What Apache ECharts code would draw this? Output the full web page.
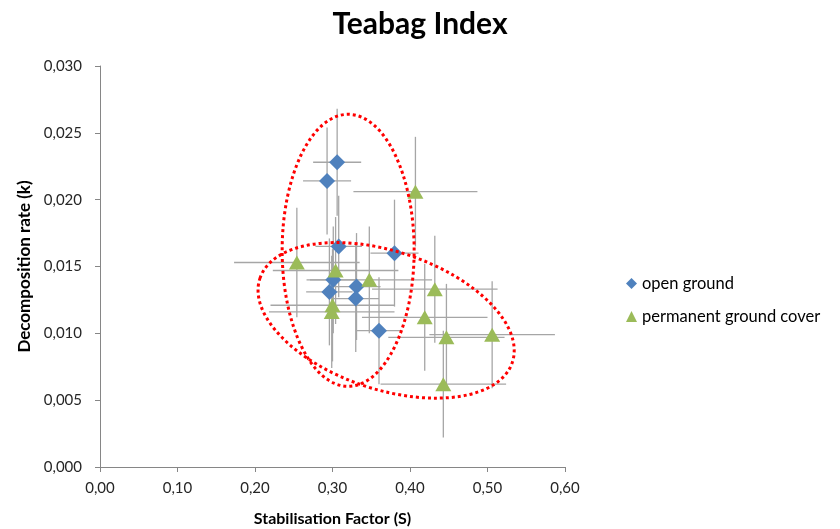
<!DOCTYPE html>
<html>
<head>
<meta charset="utf-8">
<script src="https://cdn.jsdelivr.net/npm/echarts@6/dist/echarts.min.js"></script>
<style>html,body{margin:0;padding:0;background:#fff;}#c{width:840px;height:529px;}</style>
</head>
<body>
<div id="c"></div>
<script>
// ---- data ----
const seriesNames = ['open ground', 'permanent ground cover'];
const openX    = [0.306, 0.293, 0.308, 0.380, 0.301, 0.296, 0.331, 0.330, 0.360];
const openY    = [0.0228, 0.0214, 0.0165, 0.0160, 0.0140, 0.0131, 0.0135, 0.0126, 0.0102];
const openXErr = [0.031, 0.031, 0.030, 0.031, 0.030, 0.030, 0.031, 0.030, 0.030];
const openYErr = [0.0040, 0.0040, 0.0038, 0.0040, 0.0040, 0.0040, 0.0040, 0.0040, 0.0040];
const permX    = [0.407, 0.254, 0.304, 0.3475, 0.432, 0.300, 0.299, 0.419, 0.447, 0.506, 0.443];
const permY    = [0.0206, 0.0153, 0.0147, 0.0140, 0.0133, 0.0121, 0.0116, 0.0112, 0.0097, 0.0099, 0.0062];
const permXErr = [0.080, 0.081, 0.081, 0.081, 0.081, 0.080, 0.081, 0.081, 0.075, 0.081, 0.081];
const permYErr = [0.0041, 0.0041, 0.0040, 0.0040, 0.0040, 0.0042, 0.0042, 0.0040, 0.0040, 0.0040, 0.0040];
const xTicks = [0, 0.1, 0.2, 0.3, 0.4, 0.5, 0.6];
const yTicks = [0, 0.005, 0.010, 0.015, 0.020, 0.025, 0.030];

// annotation ellipses (centre in data units, radii in px, tilt in degrees clockwise)
const ellipseCentres = [[0.3202, 0.01621], [0.3692, 0.01097]];
const ellipseRadii = [[66, 136], [133, 69]];
const ellipseTilt = [0, 18.4];

const FONT = 'Lato';
const zip = (xs, ys) => xs.map((x, i) => [x, ys[i]]);
const zipErr = (xs, ys, ex, ey) => xs.map((x, i) => [x, ys[i], ex[i], ey[i]]);

function errRender(params, api) {
  const x = api.value(0), y = api.value(1), ex = api.value(2), ey = api.value(3);
  const l = api.coord([x - ex, y]), r = api.coord([x + ex, y]);
  const t = api.coord([x, y + ey]), b = api.coord([x, y - ey]);
  const st = { stroke: '#a6a6a6', lineWidth: 1.3 };
  return {
    type: 'group',
    children: [
      { type: 'line', shape: { x1: l[0], y1: l[1], x2: r[0], y2: r[1] }, style: st },
      { type: 'line', shape: { x1: t[0], y1: t[1], x2: b[0], y2: b[1] }, style: st }
    ]
  };
}

const chart = echarts.init(document.getElementById('c'));
const axisCommon = {
  axisLine: { show: true, lineStyle: { color: '#868686', width: 1 } },
  axisTick: { show: true, inside: false, length: 5, lineStyle: { color: '#868686' } },
  splitLine: { show: false },
  nameLocation: 'middle'
};
chart.setOption({
  animation: false,
  backgroundColor: '#fff',
  title: {
    text: 'Teabag Index', left: 'center', top: 4,
    textStyle: { fontFamily: FONT, fontWeight: 'bold', fontSize: 30, color: '#000' }
  },
  grid: { left: 100, right: 275, top: 66, bottom: 62, containLabel: false, outerBoundsMode: 'none' },
  legend: {
    orient: 'vertical', left: 621, top: 270, itemWidth: 11, itemHeight: 11, itemGap: 16,
    textStyle: { fontFamily: FONT, fontSize: 16.5, color: '#000' },
    data: [{ name: seriesNames[0], icon: 'diamond' }, { name: seriesNames[1], icon: 'triangle' }]
  },
  xAxis: Object.assign({}, axisCommon, {
    type: 'value', min: xTicks[0], max: xTicks[xTicks.length - 1], interval: 0.1,
    name: 'Stabilisation Factor (S)', nameGap: 44,
    nameTextStyle: { fontFamily: FONT, fontWeight: 'bold', fontSize: 16, color: '#000' },
    axisLabel: { fontFamily: FONT, fontSize: 15, color: '#262626', margin: 14,
      formatter: v => v.toFixed(2).replace('.', ',') }
  }),
  yAxis: Object.assign({}, axisCommon, {
    type: 'value', min: yTicks[0], max: yTicks[yTicks.length - 1], interval: 0.005,
    name: 'Decomposition rate (k)', nameGap: 59,
    nameTextStyle: { fontFamily: FONT, fontWeight: 'bold', fontSize: 17, color: '#000' },
    axisLabel: { fontFamily: FONT, fontSize: 15, color: '#262626', margin: 18,
      formatter: v => v.toFixed(3).replace('.', ',') }
  }),
  series: [
    { type: 'custom', name: 'errOpen', renderItem: errRender, data: zipErr(openX, openY, openXErr, openYErr), z: 1, encode: { x: 0, y: 1 }, silent: true },
    { type: 'custom', name: 'errPerm', renderItem: errRender, data: zipErr(permX, permY, permXErr, permYErr), z: 1, encode: { x: 0, y: 1 }, silent: true },
    { type: 'scatter', name: seriesNames[0], symbol: 'diamond', symbolSize: 16, itemStyle: { color: '#4f81bd', opacity: 1 }, data: zip(openX, openY), z: 3 },
    { type: 'scatter', name: seriesNames[1], symbol: 'triangle', symbolSize: [16, 14], itemStyle: { color: '#9bbb59', opacity: 1 }, data: zip(permX, permY), z: 3 }
  ]
});

const ellGraphics = ellipseCentres.map((c, i) => {
  const p = chart.convertToPixel({ gridIndex: 0 }, c);
  return {
    type: 'ellipse', x: p[0], y: p[1], rotation: -ellipseTilt[i] * Math.PI / 180,
    shape: { cx: 0, cy: 0, rx: ellipseRadii[i][0], ry: ellipseRadii[i][1] },
    style: { fill: 'none', stroke: '#ff0000', lineWidth: 3, lineDash: [3, 3] },
    z: 10, silent: true
  };
});
chart.setOption({ graphic: ellGraphics });
</script>
</body>
</html>
